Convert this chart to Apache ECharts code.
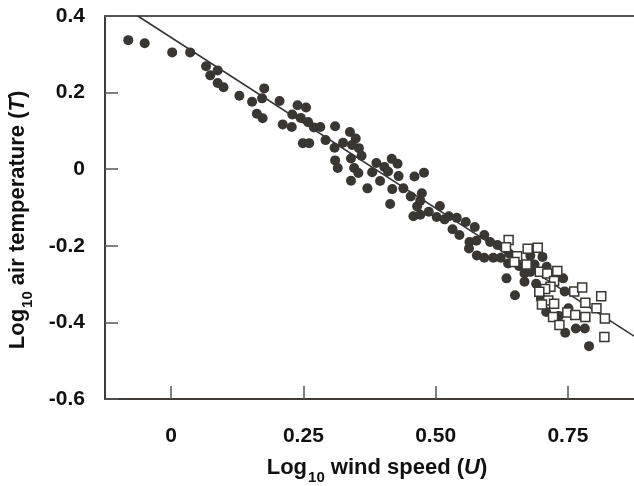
<!DOCTYPE html>
<html>
<head>
<meta charset="utf-8">
<script src="https://cdn.jsdelivr.net/npm/echarts@6/dist/echarts.min.js"></script>
<style>
html,body{margin:0;padding:0;background:#fff;}
#chart{width:634px;height:486px;}
</style>
</head>
<body>
<div id="chart"></div>
<script>
// Filled circles: [log10 U, log10 T]
const circleX = [-0.081,-0.050,0.002,0.036,0.066,0.088,0.074,0.088,0.099,0.129,
0.153,0.176,0.172,0.205,0.162,0.173,0.239,0.255,0.229,0.245,
0.259,0.270,0.282,0.211,0.228,0.249,0.261,0.292,0.310,0.338,
0.349,0.325,0.309,0.355,0.342,0.360,0.340,0.310,0.315,0.346,
0.354,0.340,0.371,0.388,0.403,0.417,0.428,0.380,0.395,0.410,
0.430,0.418,0.439,0.460,0.478,0.453,0.474,0.414,0.465,0.471,
0.458,0.471,0.487,0.508,0.502,0.517,0.525,0.540,0.557,0.532,
0.574,0.545,0.564,0.563,0.577,0.592,0.603,0.578,0.592,0.609,
0.623,0.617,0.639,0.637,0.658,0.634,0.650,0.668,0.668,0.679,
0.687,0.679,0.702,0.710,0.690,0.699,0.709,0.722,0.741,0.744,
0.751,0.733,0.745,0.765,0.782,0.790];
const circleY = [0.337,0.329,0.305,0.305,0.269,0.258,0.245,0.225,0.214,0.192,
0.176,0.211,0.185,0.178,0.145,0.133,0.167,0.161,0.143,0.134,
0.123,0.109,0.110,0.117,0.110,0.068,0.068,0.076,0.112,0.097,
0.080,0.069,0.056,0.055,0.063,0.035,0.028,0.023,0.003,0.003,
-0.010,-0.030,-0.050,0.016,0.006,0.027,0.014,-0.008,-0.031,-0.006,
-0.018,-0.052,-0.050,-0.019,-0.009,-0.071,-0.063,-0.091,-0.097,-0.082,
-0.123,-0.119,-0.111,-0.096,-0.125,-0.131,-0.123,-0.127,-0.138,-0.157,
-0.151,-0.172,-0.190,-0.207,-0.187,-0.172,-0.190,-0.225,-0.231,-0.231,
-0.231,-0.198,-0.220,-0.246,-0.253,-0.285,-0.329,-0.272,-0.294,-0.226,
-0.249,-0.268,-0.229,-0.255,-0.299,-0.338,-0.373,-0.277,-0.285,-0.319,
-0.363,-0.383,-0.427,-0.416,-0.416,-0.462];

// Open squares
const squareX = [0.638,0.633,0.654,0.649,0.674,0.693,0.672,0.697,0.711,0.730,
0.724,0.717,0.707,0.696,0.762,0.777,0.783,0.813,0.804,0.820,
0.819,0.713,0.724,0.701,0.749,0.764,0.783,0.722,0.734];
const squareY = [-0.185,-0.204,-0.227,-0.242,-0.208,-0.205,-0.249,-0.268,-0.272,-0.266,
-0.292,-0.307,-0.313,-0.320,-0.319,-0.309,-0.349,-0.332,-0.363,-0.390,
-0.438,-0.343,-0.351,-0.353,-0.374,-0.381,-0.386,-0.386,-0.407];

// Fitted regression line endpoints
const fitX = [-0.063, 0.875];
const fitY = [0.400, -0.436];

// Tick labels
const xTickValues = [0, 0.25, 0.5, 0.75];
const xTickLabels = ['0', '0.25', '0.50', '0.75'];
const yTickValues = [0.4, 0.2, 0, -0.2, -0.4, -0.6];
const yTickLabels = ['0.4', '0.2', '0', '-0.2', '-0.4', '-0.6'];

const zip = (a, b) => a.map((v, i) => [v, b[i]]);
const FONT = "'Liberation Sans', Arial, sans-serif";
const INK = '#3a3632';
const AXIS = '#3f3b37';

function fmt(list, labels) {
  return function (v) {
    for (let i = 0; i < list.length; i++) {
      if (Math.abs(list[i] - v) < 1e-6) return labels[i];
    }
    return '';
  };
}

const titleRich = {
  a: {fontFamily: FONT, fontWeight: 'bold', fontSize: 22, fill: '#111', verticalAlign: 'top'},
  s: {fontFamily: FONT, fontWeight: 'bold', fontSize: 15, fill: '#111', verticalAlign: 'top', padding: [13, 0, 0, 1]},
  i: {fontFamily: FONT, fontWeight: 'bold', fontStyle: 'italic', fontSize: 22, fill: '#111', verticalAlign: 'top'}
};

const chart = echarts.init(document.getElementById('chart'), null, {renderer: 'canvas'});
chart.setOption({
  animation: false,
  backgroundColor: '#fff',
  grid: {left: 105, top: 16, width: 534, height: 383, containLabel: false},
  xAxis: [{
    type: 'value', min: -0.125, max: 0.875, position: 'bottom',
    splitLine: {show: false},
    axisLine: {show: true, onZero: false, lineStyle: {color: AXIS, width: 2}},
    axisTick: {show: true, inside: true, length: 13, customValues: xTickValues, lineStyle: {color: '#555', width: 1.5}},
    axisLabel: {customValues: xTickValues, formatter: fmt(xTickValues, xTickLabels), margin: 27,
      fontFamily: FONT, fontWeight: 'bold', fontSize: 21, color: '#111'}
  }, {
    type: 'value', min: -0.125, max: 0.875, position: 'top',
    splitLine: {show: false},
    axisLine: {show: true, onZero: false, lineStyle: {color: '#555', width: 2}},
    axisTick: {show: false}, axisLabel: {show: false}
  }],
  yAxis: {
    type: 'value', min: -0.6, max: 0.4, interval: 0.2,
    splitLine: {show: false},
    axisLine: {show: true, onZero: false, lineStyle: {color: AXIS, width: 2}},
    axisTick: {show: true, inside: true, length: 13, lineStyle: {color: '#555', width: 1.5}},
    axisLabel: {formatter: fmt(yTickValues, yTickLabels), margin: 20,
      fontFamily: FONT, fontWeight: 'bold', fontSize: 21, color: '#111'}
  },
  series: [{
    type: 'line', data: zip(fitX, fitY), symbol: 'none', silent: true,
    lineStyle: {color: '#333', width: 1.5}, z: 1
  }, {
    type: 'scatter', data: zip(circleX, circleY), symbol: 'circle', symbolSize: 10,
    itemStyle: {color: INK, opacity: 1}, z: 2
  }, {
    type: 'scatter', data: zip(squareX, squareY), symbol: 'rect', symbolSize: 9,
    itemStyle: {color: '#fff', borderColor: INK, borderWidth: 1.5, opacity: 1}, z: 3
  }],
  graphic: [{
    type: 'text', x: 377, y: 471,
    style: {text: '{a|Log}{s|10}{a| wind speed (}{i|U}{a|)}', rich: titleRich, align: 'center', verticalAlign: 'middle'}
  }, {
    type: 'text', x: 21, y: 220, rotation: Math.PI / 2,
    style: {text: '{a|Log}{s|10}{a| air temperature (}{i|T}{a|)}', rich: titleRich, align: 'center', verticalAlign: 'middle'}
  }]
});
</script>
</body>
</html>
